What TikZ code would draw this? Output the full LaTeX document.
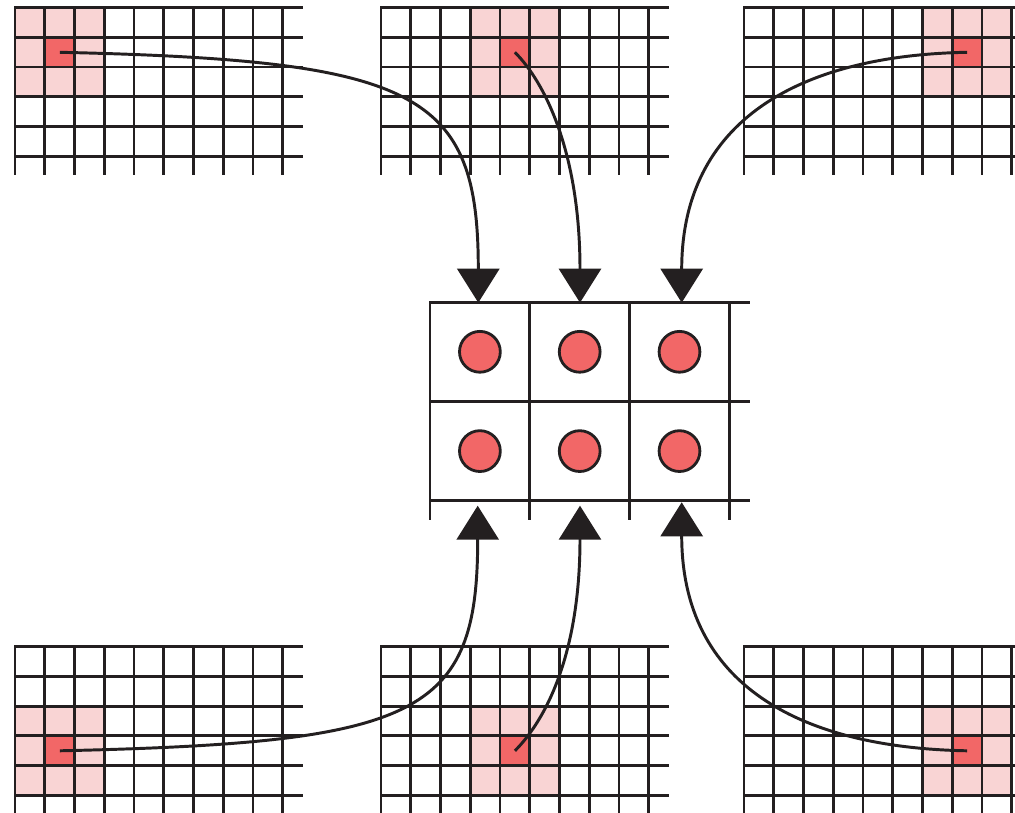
\documentclass[tikz,border=0pt]{standalone}
\usepackage{tikz}
\usetikzlibrary{arrows.meta}
\definecolor{ink}{HTML}{231F20}
\definecolor{cellred}{HTML}{F26767}
\definecolor{cellpink}{HTML}{F9D4D4}

\begin{document}
\begin{tikzpicture}[x=0.025cm,y=-0.025cm,line width=2.1pt,
  gridline/.style={draw=ink,line cap=rect},
  pixel/.style={circle,draw=ink,fill=cellred,minimum size=1.02cm,inner sep=0pt,line width=2pt},
  flow/.style={draw=ink,-{Triangle[width=1.05cm,length=0.85cm]}}]
 \path[use as bounding box,clip] (0,0) rectangle (1015,813);
 % input maps: origin / highlighted column / highlighted row
 \foreach \gx/\gy/\hc/\hr in {15/7.5/0/0,381/7.5/3/0,744/7.5/6/0,15/646.7/0/2,381/646.7/3/2,744/646.7/6/2}{
  \fill[cellpink] (\gx+\hc*29.75,\gy+\hr*29.75) rectangle +(89.25,89.25);
  \fill[cellred] (\gx+\hc*29.75+29.75,\gy+\hr*29.75+29.75) rectangle +(29.75,29.75);
  \foreach \i in {0,...,9} \draw[gridline] (\gx+\i*29.75,\gy) -- +(0,166);
  \foreach \j in {0,...,5} \draw[gridline] (\gx,\gy+\j*29.75) -- +(287,0);
 }
 % output map
 \foreach \x in {430,529.8,629.6,729.4} \draw[gridline] (\x,302.7) -- (\x,519);
 \foreach \y in {302.7,401.8,500.9} \draw[gridline] (430,\y) -- (749,\y);
 \foreach \c in {1,2,3} \foreach \r in {1,2}
  \node[pixel] (p\r\c) at (380.1+\c*99.8,252.5+\r*99.3) {};
 % sources and targets
 \coordinate (s1) at (59.8,52.3);
 \coordinate (s2) at (514.9,52.3);
 \coordinate (s3) at (967.1,52.3);
 \coordinate (u1) at (59.8,750.8);
 \coordinate (u2) at (514.9,750.8);
 \coordinate (u3) at (967.1,750.8);
 \coordinate (t1) at (478.3,302.7);
 \coordinate (t2) at (580,302.7);
 \coordinate (t3) at (681.7,302.7);
 \coordinate (b1) at (477.7,505.7);
 \coordinate (b2) at (580,505.7);
 \coordinate (b3) at (681.7,502.3);
 \draw[flow] (s1) .. controls +(360,8) and +(0,-210) .. (t1);
 \draw[flow] (s2) .. controls +(30,30) and +(0,-150) .. (t2);
 \draw[flow] (s3) .. controls +(-168,3) and +(0,-182) .. (t3);
 \draw[flow] (u1) .. controls +(360,-8) and +(0,210) .. (b1);
 \draw[flow] (u2) .. controls +(30,-30) and +(0,150) .. (b2);
 \draw[flow] (u3) .. controls +(-168,-3) and +(0,182) .. (b3);
\end{tikzpicture}
\end{document}
